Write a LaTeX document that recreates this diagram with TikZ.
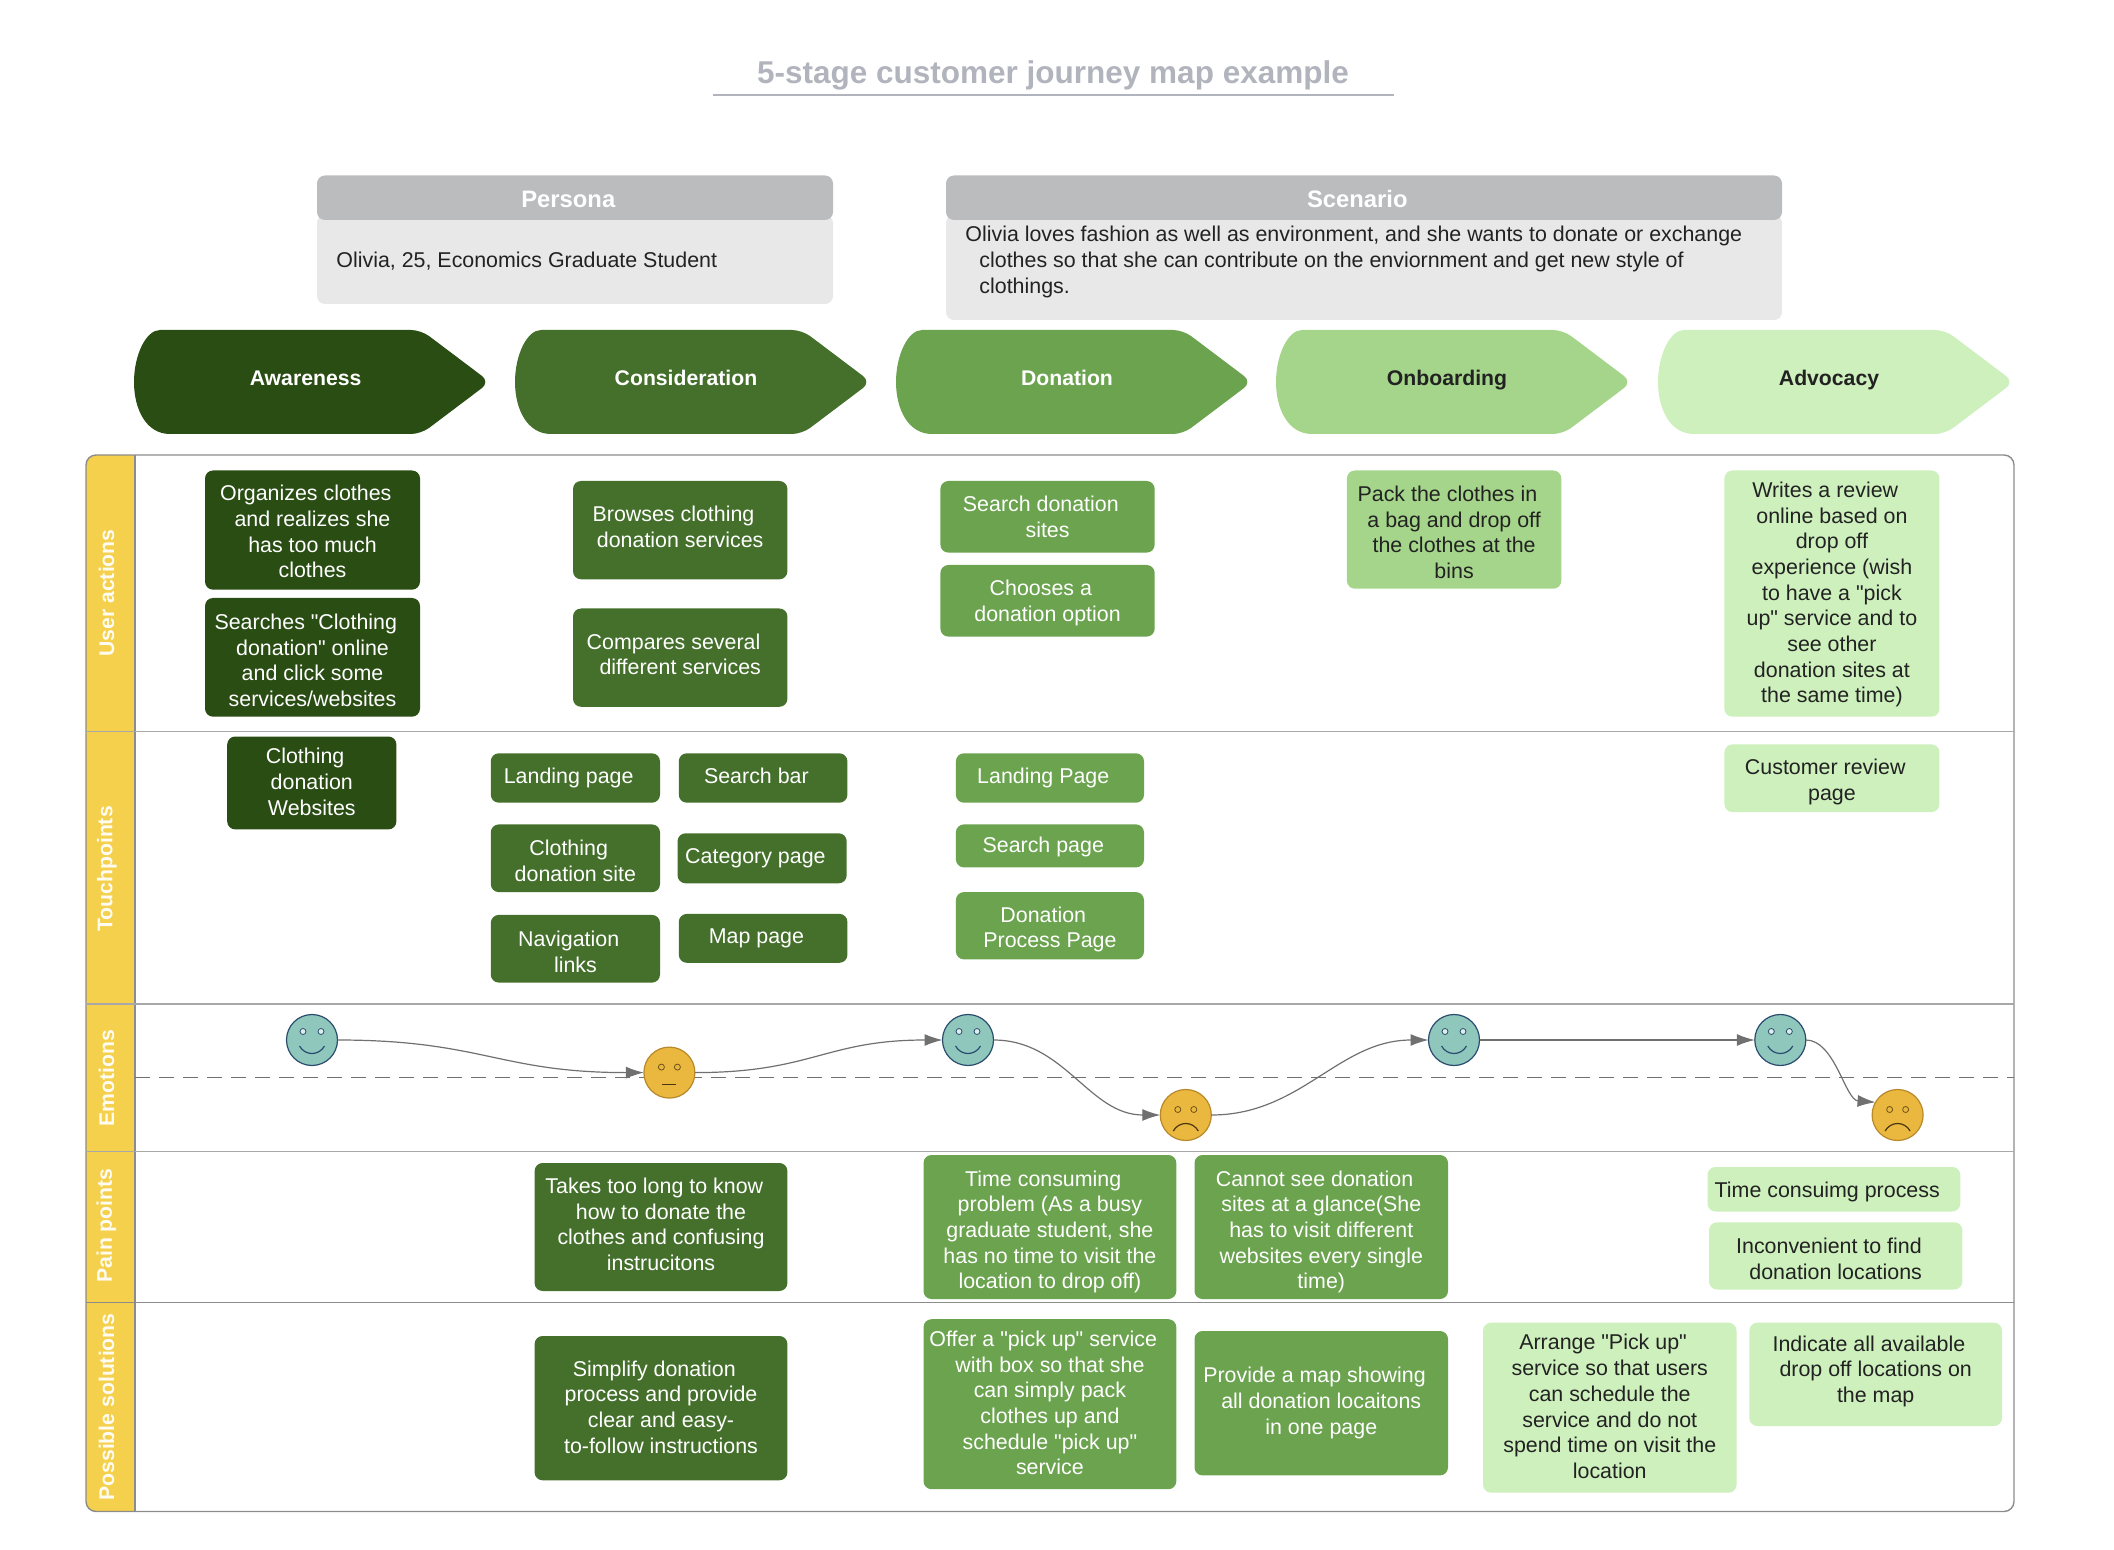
\documentclass[tikz,border=0pt]{standalone}
\usepackage{fontspec}
\setmainfont{Liberation Sans}[Ligatures=TeXOff]
\usetikzlibrary{arrows.meta}
\definecolor{cA}{HTML}{2A4D14}
\definecolor{cB}{HTML}{44702B}
\definecolor{cC}{HTML}{6BA34F}
\definecolor{cD}{HTML}{A5D58A}
\definecolor{cE}{HTML}{CDF0BD}
\definecolor{hdr}{HTML}{BBBCBE}
\definecolor{bdy}{HTML}{E8E8E8}
\definecolor{lane}{HTML}{F4D04C}
\definecolor{frameC}{HTML}{8C8C8C}
\definecolor{divC}{HTML}{A8A8A8}
\definecolor{ttl}{HTML}{B1B4BC}
\definecolor{teal}{HTML}{8FC7BD}
\definecolor{tealB}{HTML}{2B4C6F}
\definecolor{org}{HTML}{EAB73F}
\definecolor{orgB}{HTML}{B8892A}
\definecolor{dk}{HTML}{222222}
\definecolor{lnk}{HTML}{707070}
\newcommand\tsz{\fontsize{10.7}{12.85}\selectfont}
\newcommand\fshift{\kern6.7pt }
% optional: downward text offset in reference pixels
\newcommand\jbox[8][0]{%
  \pgfmathsetmacro\bw{(#6-#4)/2}\pgfmathsetmacro\bh{(#7-#5)/2}\pgfmathsetmacro\by{-(#1)/2}%
  \node[#3,minimum width=\bw pt,minimum height=\bh pt] (#2) at ({(#4+#6)/2},{(#5+#7)/2})
    {\raisebox{\by pt}[\height][\depth]{\begin{tabular}{@{}c@{}}#8\end{tabular}}};}
\newcommand\chev[6]{%
  \fill[#3] (#2+36,330) .. controls (#2+12,330) and (#2,355) .. (#2,382)
    .. controls (#2,409) and (#2+12,434) .. (#2+36,434)
    [rounded corners=5pt] -- (#2+287,434) -- (#2+356,382) -- (#2+287,330) -- cycle;
  \node[chevtext,text=#4] (#1) at (#5,380) {#6};}
\newcommand\happyface[3]{%
  \node[facenode,fill=teal,draw=tealB] (#1) at (#2,#3) {};
  \begin{scope}[shift={(#2,#3)}]
    \draw[tealB,line width=.4pt,fill=white!70!teal] (-9,-8.5) circle[radius=3] (9,-8.5) circle[radius=3];
    \draw[tealB,line width=.6pt] (-12.5,6) .. controls (-7,16) and (7,16) .. (12.5,6);
  \end{scope}}
\newcommand\sadface[3]{%
  \node[facenode,fill=org,draw=orgB] (#1) at (#2,#3) {};
  \begin{scope}[shift={(#2,#3)}]
    \draw[orgB!60!black,line width=.4pt] (-8,-5.5) circle[radius=3] (8,-5.5) circle[radius=3];
    \draw[orgB!40!black,line width=.6pt] (-12.5,16) .. controls (-7,6) and (7,6) .. (12.5,16);
  \end{scope}}
\tikzset{
  base/.style={inner sep=0pt,outer sep=0pt,rounded corners=4pt,font=\tsz},
  boxA/.style={base,fill=cA,text=white},
  boxB/.style={base,fill=cB,text=white},
  boxC/.style={base,fill=cC,text=white},
  boxD/.style={base,fill=cD,text=dk},
  boxE/.style={base,fill=cE,text=dk},
  hdrbox/.style={base,fill=hdr,text=white,font=\fontsize{11.9}{14}\selectfont\bfseries},
  bodybox/.style={base,fill=bdy},
  bodytext/.style={inner sep=0pt,anchor=west,align=left,text=dk,font=\tsz},
  chevtext/.style={inner sep=0pt,text height=7.5pt,text depth=2.2pt,font=\fontsize{10.6}{13}\selectfont\bfseries},
  lanetext/.style={inner sep=0pt,rotate=90,text=white!92!lane,font=\fontsize{10.6}{13}\selectfont\bfseries},
  facenode/.style={circle,inner sep=0pt,outer sep=0pt,minimum size=25.5pt,line width=.6pt},
  link/.style={lnk,line width=.6pt,-{Latex[length=9pt,width=6pt]}},
}
\begin{document}
\begin{tikzpicture}[x=0.5pt,y=-0.5pt]
\useasboundingbox (0,0) rectangle (2114,1550);
% title
\node[inner sep=0pt,text=ttl,font=\fontsize{15.75}{18}\selectfont\bfseries] (title) at (1053,75) {5-stage customer journey map example};
\coordinate (ulL) at (713,95); \coordinate (ulR) at (1394,95);
\draw[ttl,line width=.8pt] (ulL) -- (ulR);
% persona and scenario
\jbox{perB}{bodybox}{317}{215}{833}{304}{}
\jbox[4]{perH}{hdrbox}{317}{175.5}{833}{220}{Persona\fshift}
\node[bodytext] (perT) at (336,261) {Olivia, 25, Economics Graduate Student};
\jbox{scnB}{bodybox}{946}{215}{1782}{320}{}
\jbox[4]{scnH}{hdrbox}{946}{175.5}{1782}{220}{Scenario\fshift}
\node[bodytext] (scnT) at (965,262) {Olivia loves fashion as well as environment, and she wants to donate or exchange\\\kern7pt clothes so that she can contribute on the enviornment and get new style of\\\kern7pt clothings.};
% stages
\chev{stA}{134}{cA}{white}{305.6}{Awareness}
\chev{stB}{515}{cB}{white}{686}{Consideration}
\chev{stC}{896}{cC}{white}{1067}{Donation}
\chev{stD}{1276}{cD}{dk}{1447}{Onboarding}
\chev{stE}{1658}{cE}{dk}{1829}{Advocacy}
% swimlanes
\fill[lane,rounded corners=5pt] (135,455) -- (86,455) -- (86,1511.5) -- (135,1511.5) -- cycle;
\fill[lane] (110,455) rectangle (135,1511.5);
\draw[frameC,line width=.7pt,rounded corners=5pt] (86,455) rectangle (2014,1511.5);
\draw[frameC,line width=.7pt] (135,455) -- (135,1511.5);
\draw[divC,line width=.7pt] (86,731.5) -- (2014,731.5);
\draw[divC,line width=.7pt] (86,1004) -- (2014,1004);
\draw[divC,line width=.7pt] (86,1151.7) -- (2014,1151.7);
\draw[frameC,line width=.7pt] (86,1302.4) -- (2014,1302.4);
\node[lanetext] (l1) at (106.5,593) {User actions};
\node[lanetext] (l2) at (107,869) {Touchpoints};
\node[lanetext] (l3) at (106.5,1078) {Emotions};
\node[lanetext] (l4) at (106.5,1225.6) {Pain points};
\node[lanetext] (l5) at (106.5,1407) {Possible solutions};
% user actions
\jbox[4.1]{a1}{boxA}{205}{470.5}{420}{589.7}{Organizes clothes\fshift\\and realizes she\\has too much\\clothes}
\jbox[5.4]{a2}{boxA}{205}{598}{420}{716.7}{Searches "Clothing\fshift\\donation" online\\and click some\\services/websites}
\jbox[-0.7]{b1}{boxB}{573}{481}{787.4}{579.3}{Browses clothing\fshift\\donation services}
\jbox[-0.7]{b2}{boxB}{573}{608.5}{787.4}{706.8}{Compares several\fshift\\different services}
\jbox[2.7]{c1}{boxC}{940.4}{481}{1154.7}{552.6}{Search donation\fshift\\sites}
\jbox[2.7]{c2}{boxC}{940.4}{565}{1154.7}{636.6}{Chooses a\fshift\\donation option}
\jbox[5.4]{d1}{boxD}{1346.9}{470.5}{1561.3}{588.7}{Pack the clothes in\fshift\\a bag and drop off\\the clothes at the\\bins}
\jbox[1.4]{e1}{boxE}{1724.4}{470.5}{1939.4}{716.7}{Writes a review\fshift\\online based on\\drop off\\experience (wish\\to have a "pick\\up" service and to\\see other\\donation sites at\\the same time)}
% touchpoints
\jbox[1.3]{a3}{boxA}{227.2}{736.5}{396.4}{829.4}{Clothing\fshift\\donation\\Websites}
\jbox{b3}{boxB}{490.8}{753.3}{660}{802.7}{Landing page\fshift}
\jbox{b4}{boxB}{678.8}{753.3}{847.4}{802.7}{Search bar\fshift}
\jbox[5.4]{b5}{boxB}{490.8}{824.4}{660}{892.1}{Clothing\fshift\\donation site}
\jbox{b6}{boxB}{677.5}{833.3}{846.7}{883.3}{Category page\fshift}
\jbox[5.4]{b7}{boxB}{490.8}{914.9}{660}{982.6}{Navigation\fshift\\links}
\jbox{b8}{boxB}{678.8}{913.9}{847.4}{962.8}{Map page\fshift}
\jbox{c3}{boxC}{955.9}{753.3}{1144}{802.7}{Landing Page\fshift}
\jbox[1.4]{c4}{boxC}{955.9}{824.4}{1144}{867.4}{Search page\fshift}
\jbox[4]{c5}{boxC}{955.9}{892.1}{1144}{959.4}{Donation\fshift\\Process Page}
\jbox[4]{e2}{boxE}{1724.4}{744.4}{1939.4}{812.1}{Customer review\fshift\\page}
% emotions
\coordinate (dashL) at (135,1077.5); \coordinate (dashR) at (2014,1077.5);
\draw[lnk,line width=.7pt,dash pattern=on 7.5pt off 4.5pt] (dashL) -- (dashR);
\happyface{f1}{312}{1040}
\node[facenode,fill=org,draw=orgB] (f2) at (669.4,1072.6) {};
\begin{scope}[shift={(669.4,1072.6)}]
  \draw[orgB!60!black,line width=.4pt] (-8,-5.5) circle[radius=3] (8,-5.5) circle[radius=3];
  \draw[orgB!40!black,line width=.6pt] (-7,12) -- (7,12);
\end{scope}
\happyface{f3}{968}{1040}
\sadface{f4}{1185.8}{1115}
\happyface{f5}{1454}{1040}
\happyface{f6}{1780.3}{1040}
\sadface{f7}{1897.6}{1115}
\draw[link] (f1.east) to[out=0,in=180,looseness=1.2] (f2.west);
\draw[link] (f2.east) to[out=0,in=180,looseness=1.2] (f3.west);
\draw[link] (f3.east) to[out=0,in=180] (f4.west);
\draw[link] (f4.east) to[out=0,in=180] (f5.west);
\draw[link] (f5.east) -- (f6.west);
\draw[link] (f6.east) .. controls (1835,1040) and (1845,1100) .. (f7.150);
% pain points
\jbox{p1}{boxB}{534.6}{1163}{787.4}{1291}{Takes too long to know\fshift\\how to donate the\\clothes and confusing\\instrucitons}
\jbox[5.4]{p2}{boxC}{923.5}{1155}{1176.3}{1299}{Time consuming\fshift\\problem (As a busy\\graduate student, she\\has no time to visit the\\location to drop off)}
\jbox[5.4]{p3}{boxC}{1194.5}{1155}{1448}{1299}{Cannot see donation\fshift\\sites at a glance(She\\has to visit different\\websites every single\\time)}
\jbox[2.7]{p4}{boxE}{1707.5}{1167}{1960.3}{1211.5}{Time consuimg process\fshift}
\jbox[5.4]{p5}{boxE}{1709}{1222.3}{1962.3}{1289.5}{Inconvenient to find\fshift\\donation locations}
% possible solutions
\jbox[1.3]{s1}{boxB}{534.6}{1336}{787.4}{1480.3}{Simplify donation\fshift\\process and provide\\clear and easy-\\to-follow instructions}
\jbox[1.3]{s2}{boxC}{923.5}{1319.2}{1176.3}{1489.2}{Offer a "pick up" service\fshift\\with box so that she\\can simply pack\\clothes up and\\schedule "pick up"\\service}
\jbox{s3}{boxC}{1194.5}{1331}{1448}{1475.4}{Provide a map showing\fshift\\all donation locaitons\\in one page}
\jbox[1.3]{s4}{boxE}{1483}{1322.7}{1736.5}{1492.7}{Arrange "Pick up"\fshift\\service so that users\\can schedule the\\service and do not\\spend time on visit the\\location}
\jbox[-2.7]{s5}{boxE}{1749.3}{1322.7}{2002}{1426}{Indicate all available\fshift\\drop off locations on\\the map}
\end{tikzpicture}
\end{document}
